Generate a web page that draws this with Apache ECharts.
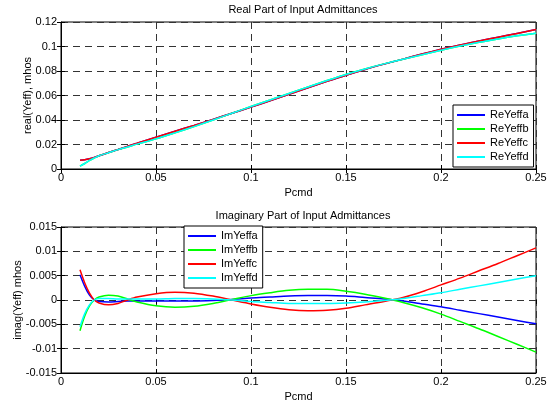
<!DOCTYPE html>
<html>
<head>
<meta charset="utf-8">
<script src="https://cdn.jsdelivr.net/npm/echarts@6/dist/echarts.min.js"></script>
<style>
  html, body { margin: 0; padding: 0; background: #fff; }
  #chart { width: 554px; height: 405px; }
</style>
</head>
<body>
<div id="chart"></div>
<script>
// Commanded power (Pcmd) sample points
var pcmd = [0.01, 0.0125, 0.015, 0.0175, 0.02, 0.025, 0.03, 0.035, 0.04, 0.05,
            0.06, 0.07, 0.08, 0.09, 0.10, 0.11, 0.12, 0.13, 0.14, 0.15,
            0.16, 0.17, 0.18, 0.19, 0.20, 0.21, 0.22, 0.23, 0.24, 0.25];

// Real part of the effective admittances (mhos)
var reYeffa = [0.0072, 0.0076, 0.0084, 0.0095, 0.0108, 0.0134, 0.0159, 0.0185, 0.0210, 0.0260,
               0.0308, 0.0356, 0.0405, 0.0455, 0.0505, 0.0557, 0.0610, 0.0662, 0.0715, 0.0766,
               0.0813, 0.0856, 0.0897, 0.0938, 0.0977, 0.1013, 0.1045, 0.1076, 0.1107, 0.1138];
var reYeffb = [0.0023, 0.0045, 0.0070, 0.0090, 0.0108, 0.0133, 0.0158, 0.0180, 0.0203, 0.0246,
               0.0295, 0.0346, 0.0400, 0.0455, 0.0510, 0.0563, 0.0617, 0.0670, 0.0722, 0.0772,
               0.0817, 0.0858, 0.0896, 0.0933, 0.0970, 0.1004, 0.1035, 0.1062, 0.1087, 0.1109];
var reYeffc = [0.0072, 0.0076, 0.0084, 0.0095, 0.0108, 0.0134, 0.0159, 0.0185, 0.0210, 0.0260,
               0.0308, 0.0356, 0.0405, 0.0455, 0.0505, 0.0557, 0.0610, 0.0662, 0.0715, 0.0766,
               0.0813, 0.0856, 0.0897, 0.0938, 0.0977, 0.1013, 0.1045, 0.1076, 0.1107, 0.1138];
var reYeffd = [0.0023, 0.0045, 0.0070, 0.0090, 0.0108, 0.0133, 0.0158, 0.0180, 0.0203, 0.0246,
               0.0295, 0.0346, 0.0400, 0.0455, 0.0510, 0.0563, 0.0617, 0.0670, 0.0722, 0.0772,
               0.0817, 0.0858, 0.0896, 0.0933, 0.0970, 0.1004, 0.1035, 0.1062, 0.1087, 0.1109];

// Imaginary part of the effective admittances (mhos)
var imYeffa = [0.0052, 0.0028, 0.0010, 0.0000, -0.0003, -0.0004, -0.0003, -0.0002, -0.0002, -0.0002,
               -0.0002, -0.0002, -0.0001, 0.0001, 0.0004, 0.0006, 0.0008, 0.0009, 0.0009, 0.0008,
               0.0005, 0.0002, -0.0002, -0.0008, -0.0014, -0.0021, -0.0028, -0.0035, -0.0042, -0.0049];
var imYeffb = [-0.0063, -0.0033, -0.0012, 0.0000, 0.0006, 0.0010, 0.0008, 0.0002, -0.0004, -0.0012,
               -0.0015, -0.0013, -0.0007, 0.0001, 0.0009, 0.0015, 0.0020, 0.0022, 0.0022, 0.0018,
               0.0012, 0.0004, -0.0005, -0.0016, -0.0029, -0.0044, -0.0059, -0.0075, -0.0091, -0.0107];
var imYeffc = [0.0062, 0.0035, 0.0014, 0.0000, -0.0006, -0.0010, -0.0007, 0.0000, 0.0006, 0.0013,
               0.0016, 0.0014, 0.0008, 0.0000, -0.0008, -0.0015, -0.0020, -0.0022, -0.0021, -0.0017,
               -0.0010, -0.0003, 0.0005, 0.0017, 0.0031, 0.0045, 0.0060, 0.0075, 0.0091, 0.0107];
var imYeffd = [-0.0055, -0.0028, -0.0010, 0.0000, 0.0003, 0.0003, 0.0002, 0.0002, 0.0002, 0.0002,
               0.0003, 0.0003, 0.0002, 0.0000, -0.0003, -0.0005, -0.0007, -0.0007, -0.0007, -0.0006,
               -0.0004, -0.0001, 0.0003, 0.0009, 0.0015, 0.0022, 0.0029, 0.0036, 0.0043, 0.0050];

var colors = ['#0000ff', '#00ff00', '#ff0000', '#00ffff'];
var font = 'Liberation Sans, Arial, sans-serif';

function pairs(ys) {
  return pcmd.map(function (x, i) { return [x, ys[i]]; });
}
function fmt(v) { return String(+v.toFixed(4)); }

var gridLine = { show: true, lineStyle: { color: '#333', type: [7, 5], width: 1 } };
var tick = { show: true, inside: true, length: 4, lineStyle: { color: '#000' } };

function xAxis(gridIndex) {
  return {
    type: 'value', gridIndex: gridIndex, min: 0, max: 0.25, interval: 0.05,
    name: 'Pcmd', nameLocation: 'middle', nameGap: 18, nameMoveOverlap: false,
    nameTextStyle: { color: '#000', fontFamily: font, fontSize: 11 },
    axisLine: { show: true, onZero: false, lineStyle: { color: '#000' } },
    axisTick: tick,
    axisLabel: { color: '#000', fontFamily: font, fontSize: 11, margin: 3, formatter: fmt },
    splitLine: gridLine
  };
}
// Mirror axis along the top edge, carrying only the inward ticks
function xTop(gridIndex) {
  return {
    type: 'value', gridIndex: gridIndex, position: 'top', min: 0, max: 0.25, interval: 0.05,
    axisLine: { show: false }, axisTick: tick, axisLabel: { show: false }, splitLine: { show: false }
  };
}
function yAxis(gridIndex, min, max, interval, name, gap) {
  return {
    type: 'value', gridIndex: gridIndex, min: min, max: max, interval: interval,
    name: name, nameLocation: 'middle', nameGap: gap, nameRotate: 90, nameMoveOverlap: false,
    nameTextStyle: { color: '#000', fontFamily: font, fontSize: 11 },
    axisLine: { show: true, onZero: false, lineStyle: { color: '#000' } },
    axisTick: tick,
    axisLabel: { color: '#000', fontFamily: font, fontSize: 11, margin: 4, formatter: fmt },
    splitLine: gridLine
  };
}
function yRight(gridIndex, min, max, interval) {
  return {
    type: 'value', gridIndex: gridIndex, position: 'right', min: min, max: max, interval: interval,
    axisLine: { show: false }, axisTick: tick, axisLabel: { show: false }, splitLine: { show: false }
  };
}
function line(name, ys, idx, colorIdx) {
  return {
    name: name, type: 'line', xAxisIndex: idx * 2, yAxisIndex: idx * 2,
    data: pairs(ys), showSymbol: false, symbol: 'none', smooth: 0.3,
    lineStyle: { color: colors[colorIdx], width: 1.5 },
    itemStyle: { color: colors[colorIdx] },
    animation: false
  };
}
function legend(names, left, top) {
  return {
    data: names, orient: 'vertical', left: left, top: top,
    icon: 'rect', itemWidth: 28, itemHeight: 2, itemGap: 2,
    backgroundColor: '#fff', borderColor: '#000', borderWidth: 1,
    padding: [4, 5, 4, 4],
    textStyle: { color: '#000', fontFamily: font, fontSize: 11, lineHeight: 12 }
  };
}
function grid(top, height) {
  return { left: 61, top: top, width: 475, height: height, show: true,
           borderColor: '#000', borderWidth: 1, backgroundColor: '#fff',
           outerBoundsMode: 'none', containLabel: false };
}

var chart = echarts.init(document.getElementById('chart'), null, { renderer: 'canvas' });
chart.setOption({
  backgroundColor: '#fff',
  animation: false,
  title: [
    { text: 'Real Part of Input Admittances', left: 298, top: -1, textAlign: 'center',
      textStyle: { color: '#000', fontFamily: font, fontSize: 11, fontWeight: 'normal' } },
    { text: 'Imaginary Part of Input Admittances', left: 298, top: 205, textAlign: 'center',
      textStyle: { color: '#000', fontFamily: font, fontSize: 11, fontWeight: 'normal' } }
  ],
  grid: [grid(22, 147), grid(227, 146)],
  legend: [
    legend(['ReYeffa', 'ReYeffb', 'ReYeffc', 'ReYeffd'], 453, 105),
    legend(['ImYeffa', 'ImYeffb', 'ImYeffc', 'ImYeffd'], 184, 226)
  ],
  xAxis: [xAxis(0), xTop(0), xAxis(1), xTop(1)],
  yAxis: [
    yAxis(0, 0, 0.12, 0.02, 'real(Yeff), mhos', 28),
    yRight(0, 0, 0.12, 0.02),
    yAxis(1, -0.015, 0.015, 0.005, 'imag(Yeff) mhos', 38),
    yRight(1, -0.015, 0.015, 0.005)
  ],
  series: [
    line('ReYeffa', reYeffa, 0, 0),
    line('ReYeffb', reYeffb, 0, 1),
    line('ReYeffc', reYeffc, 0, 2),
    line('ReYeffd', reYeffd, 0, 3),
    line('ImYeffa', imYeffa, 1, 0),
    line('ImYeffb', imYeffb, 1, 1),
    line('ImYeffc', imYeffc, 1, 2),
    line('ImYeffd', imYeffd, 1, 3)
  ]
});
</script>
</body>
</html>
